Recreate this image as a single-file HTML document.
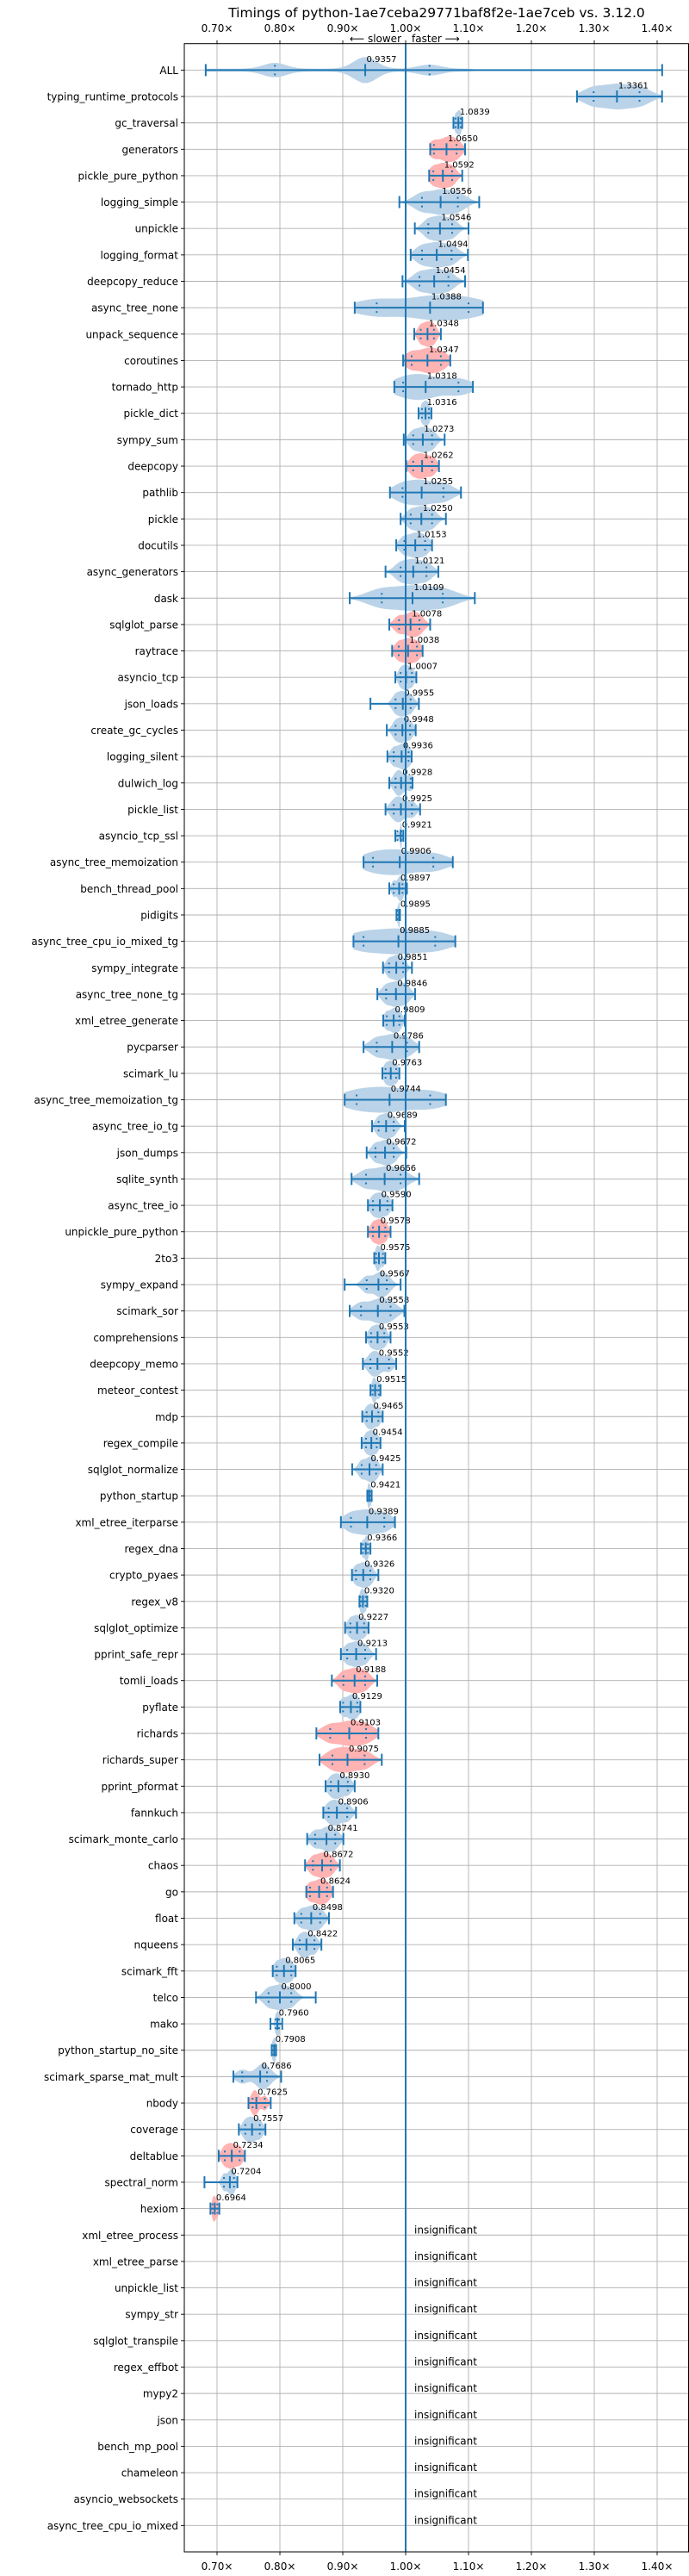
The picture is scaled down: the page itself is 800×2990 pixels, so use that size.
<!DOCTYPE html>
<html>
<head>
<meta charset="utf-8">
<style>
  html, body { margin: 0; padding: 0; background: #fff; }
  svg { display: block; }
  text { font-family: "DejaVu Sans", "Liberation Sans", sans-serif; }
</style>
</head>
<body>
<svg id="chart" width="800" height="2990" viewBox="0 0 800 2990" xmlns="http://www.w3.org/2000/svg">
  <rect x="0" y="0" width="800" height="2990" fill="#ffffff"/>
  <text x="507" y="20" font-size="15.5" text-anchor="middle" fill="#000">Timings of python-1ae7ceba29771baf8f2e-1ae7ceb vs. 3.12.0</text>
  <text x="466" y="49" font-size="12" text-anchor="end" fill="#000">⟵ slower</text>
  <text x="478" y="49" font-size="12" text-anchor="start" fill="#000">faster ⟶</text>
  <g id="grid"></g>
  <g id="violins"></g>
  <g id="axes"></g>
</svg>
<script>
const benchmarks = ["ALL","typing_runtime_protocols","gc_traversal","generators","pickle_pure_python","logging_simple","unpickle","logging_format","deepcopy_reduce","async_tree_none","unpack_sequence","coroutines","tornado_http","pickle_dict","sympy_sum","deepcopy","pathlib","pickle","docutils","async_generators","dask","sqlglot_parse","raytrace","asyncio_tcp","json_loads","create_gc_cycles","logging_silent","dulwich_log","pickle_list","asyncio_tcp_ssl","async_tree_memoization","bench_thread_pool","pidigits","async_tree_cpu_io_mixed_tg","sympy_integrate","async_tree_none_tg","xml_etree_generate","pycparser","scimark_lu","async_tree_memoization_tg","async_tree_io_tg","json_dumps","sqlite_synth","async_tree_io","unpickle_pure_python","2to3","sympy_expand","scimark_sor","comprehensions","deepcopy_memo","meteor_contest","mdp","regex_compile","sqlglot_normalize","python_startup","xml_etree_iterparse","regex_dna","crypto_pyaes","regex_v8","sqlglot_optimize","pprint_safe_repr","tomli_loads","pyflate","richards","richards_super","pprint_pformat","fannkuch","scimark_monte_carlo","chaos","go","float","nqueens","scimark_fft","telco","mako","python_startup_no_site","scimark_sparse_mat_mult","nbody","coverage","deltablue","spectral_norm","hexiom"];
const medians = [0.9357,1.3361,1.0839,1.0650,1.0592,1.0556,1.0546,1.0494,1.0454,1.0388,1.0348,1.0347,1.0318,1.0316,1.0273,1.0262,1.0255,1.0250,1.0153,1.0121,1.0109,1.0078,1.0038,1.0007,0.9955,0.9948,0.9936,0.9928,0.9925,0.9921,0.9906,0.9897,0.9895,0.9885,0.9851,0.9846,0.9809,0.9786,0.9763,0.9744,0.9689,0.9672,0.9666,0.9590,0.9578,0.9575,0.9567,0.9558,0.9553,0.9552,0.9515,0.9465,0.9454,0.9425,0.9421,0.9389,0.9366,0.9326,0.9320,0.9227,0.9213,0.9188,0.9129,0.9103,0.9075,0.8930,0.8906,0.8741,0.8672,0.8624,0.8498,0.8422,0.8065,0.8000,0.7960,0.7908,0.7686,0.7625,0.7557,0.7234,0.7204,0.6964];
const mins = [0.682,1.2726,1.076,1.039,1.0374,0.990,1.0146,1.008,0.995,0.919,1.0137,0.996,0.982,1.0205,0.997,1.001,0.975,0.992,0.985,0.968,0.911,0.974,0.9785,0.9836,0.944,0.970,0.971,0.974,0.968,0.9836,0.933,0.974,0.9854,0.917,0.964,0.955,0.9644,0.933,0.963,0.903,0.9466,0.938,0.914,0.940,0.940,0.950,0.903,0.911,0.937,0.932,0.944,0.931,0.930,0.915,0.939,0.897,0.929,0.9146,0.9265,0.9037,0.897,0.8826,0.8959,0.858,0.863,0.8726,0.869,0.8434,0.840,0.842,0.823,0.8205,0.7886,0.762,0.785,0.787,0.726,0.750,0.7347,0.7027,0.680,0.6895];
const maxs = [1.408,1.4078,1.090,1.0945,1.090,1.117,1.100,1.099,1.0945,1.123,1.056,1.071,1.107,1.041,1.062,1.053,1.088,1.064,1.042,1.052,1.110,1.039,1.027,1.017,1.021,1.016,1.0096,1.011,1.023,0.9963,1.075,1.002,0.991,1.079,1.010,1.015,0.9986,1.0215,0.990,1.064,0.9986,1.001,1.0215,0.979,0.976,0.9676,0.992,0.998,0.976,0.985,0.960,0.9635,0.960,0.9635,0.946,0.983,0.944,0.9566,0.939,0.941,0.953,0.9548,0.928,0.9566,0.962,0.919,0.921,0.901,0.8954,0.8845,0.878,0.866,0.825,0.857,0.8037,0.794,0.802,0.7854,0.777,0.7443,0.7324,0.7037];
const q1s = [0.792,1.299,1.0795,1.045,1.044,1.026,1.036,1.026,1.022,0.954,1.024,1.0096,0.996,1.026,1.012,1.012,0.995,1.008,0.998,0.992,0.962,0.9895,0.989,0.992,0.984,0.984,0.981,0.984,0.981,0.987,0.948,0.981,0.9865,0.933,0.9735,0.969,0.970,0.954,0.968,0.922,0.957,0.952,0.937,0.948,0.948,0.953,0.938,0.929,0.945,0.944,0.9475,0.938,0.937,0.930,0.940,0.913,0.932,0.921,0.928,0.912,0.907,0.901,0.9005,0.880,0.8836,0.881,0.8776,0.856,0.8525,0.848,0.834,0.8315,0.795,0.782,0.793,0.788,0.740,0.7566,0.745,0.7123,0.711,0.693];
const q3s = [1.038,1.372,1.0877,1.081,1.074,1.083,1.074,1.073,1.068,1.100,1.045,1.056,1.084,1.037,1.042,1.042,1.060,1.042,1.031,1.033,1.059,1.022,1.018,1.010,1.008,1.007,1.0046,1.008,1.010,0.993,1.044,0.995,0.990,1.047,0.996,1.000,0.990,1.002,0.985,1.039,0.981,0.981,0.992,0.971,0.9676,0.964,0.970,0.976,0.966,0.9735,0.9575,0.9566,0.954,0.953,0.945,0.966,0.940,0.9438,0.9365,0.934,0.9356,0.9356,0.923,0.937,0.9347,0.908,0.907,0.888,0.881,0.875,0.864,0.855,0.818,0.818,0.7986,0.793,0.7795,0.776,0.768,0.736,0.727,0.7005];
const slowerFlags = ["b","b","b","r","r","b","b","b","b","b","r","r","b","b","b","r","b","b","b","b","b","r","r","b","b","b","b","b","b","b","b","b","b","b","b","b","b","b","b","b","b","b","b","b","r","b","b","b","b","b","b","b","b","b","b","b","b","b","b","b","b","r","b","r","r","b","b","b","r","r","b","b","b","b","b","b","b","r","b","r","b","r"];
const insignificant = ["xml_etree_process","xml_etree_parse","unpickle_list","sympy_str","sqlglot_transpile","regex_effbot","mypy2","json","bench_mp_pool","chameleon","asyncio_websockets","async_tree_cpu_io_mixed"];
const tickValues = [0.7,0.8,0.9,1.0,1.1,1.2,1.3,1.4];
const tickLabels = ["0.70×","0.80×","0.90×","1.00×","1.10×","1.20×","1.30×","1.40×"];

const NS = "http://www.w3.org/2000/svg";
const AX_L = 214, AX_R = 799.5, AX_T = 50.7, AX_B = 2962;
const ROW_STEP = (AX_B - AX_T) / 95;
function xScale(v) { return 471 + (v - 1) * 730; }
function yScale(i) { return AX_T + (i + 1) * ROW_STEP; }
function mk(tag, attrs, parent) {
  const e = document.createElementNS(NS, tag);
  for (const k in attrs) e.setAttribute(k, attrs[k]);
  parent.appendChild(e);
  return e;
}
const grid = document.getElementById("grid");
const vg = document.getElementById("violins");
const axes = document.getElementById("axes");
const BLUE = "#1f77b4";
const allNames = benchmarks.concat(insignificant);

tickValues.forEach((v, k) => {
  const x = xScale(v);
  const gl = mk("line", {x1: x, x2: x, y1: AX_T, y2: AX_B, stroke: "#b0b0b0", "stroke-width": 0.9}, grid);
  
  
  const tt = mk("line", {x1: x, x2: x, y1: AX_T - 4, y2: AX_T, stroke: "#000", "stroke-width": 0.9}, axes);
  
  
  const tb = mk("line", {x1: x, x2: x, y1: AX_B, y2: AX_B + 4, stroke: "#000", "stroke-width": 0.9}, axes);
  
  
  const lt = mk("text", {x: x, y: 37, "font-size": 12, "text-anchor": "middle", fill: "#000"}, axes);
  lt.textContent = tickLabels[k];
  
  
  const lb = mk("text", {x: x, y: 2983, "font-size": 12, "text-anchor": "middle", fill: "#000"}, axes);
  lb.textContent = tickLabels[k];
  
  
});

allNames.forEach((n, i) => {
  const y = yScale(i);
  const gl = mk("line", {x1: AX_L, x2: AX_R, y1: y, y2: y, stroke: "#b0b0b0", "stroke-width": 0.9}, grid);
  
  
  const t = mk("line", {x1: AX_L - 4, x2: AX_L, y1: y, y2: y, stroke: "#000", "stroke-width": 0.9}, axes);
  
  
  const lab = mk("text", {x: AX_L - 7, y: y + 4.5, "font-size": 12, "text-anchor": "end", fill: "#000"}, axes);
  lab.textContent = n;
  
  
});

const HALF = 15;
benchmarks.forEach((n, i) => {
  const y = yScale(i);
  const lo = mins[i], hi = maxs[i], med = medians[i], a = q1s[i], b = q3s[i];
  let sig = Math.max((b - a) / 4, 0.0015);
  let weights = [0.85, 1, 0.85];
  let floor = 0;
  if (n === "ALL") { sig = 0.018; weights = [0.5, 1, 0.35]; floor = 0.12; }
  const centers = [a, med, b];
  const N = 90, pts = [];
  let maxd = 0;
  for (let k = 0; k <= N; k++) {
    const v = lo + (hi - lo) * k / N;
    let d = 0;
    centers.forEach((c, j) => { d += weights[j] * Math.exp(-((v - c) * (v - c)) / (2 * sig * sig)); });
    if (floor) { const fall = v > 1.1 ? Math.max(0, 1 - (v - 1.1) / 0.02) : 1; d = (d + floor) * fall; }
    pts.push([v, d]);
    if (d > maxd) maxd = d;
  }
  let dstr = "";
  pts.forEach((p, k) => { dstr += (k ? "L" : "M") + xScale(p[0]).toFixed(2) + "," + (y - HALF * p[1] / maxd).toFixed(2); });
  for (let k = pts.length - 1; k >= 0; k--) { dstr += "L" + xScale(pts[k][0]).toFixed(2) + "," + (y + HALF * pts[k][1] / maxd).toFixed(2); }
  dstr += "Z";
  const body = mk("path", {d: dstr, fill: slowerFlags[i] === "r" ? "#ffb3b3" : "#bad3e8", stroke: "none"}, vg);
  
  
  const bar = mk("line", {x1: xScale(lo), x2: xScale(hi), y1: y, y2: y, stroke: BLUE, "stroke-width": 2}, vg);
  
  
  [lo, hi].forEach(v => {
    const c = mk("line", {x1: xScale(v), x2: xScale(v), y1: y - 7, y2: y + 7, stroke: BLUE, "stroke-width": 2}, vg);
    
    
  });
  const m = mk("line", {x1: xScale(med), x2: xScale(med), y1: y - 7, y2: y + 7, stroke: BLUE, "stroke-width": 2}, vg);
  
  
  [a, b].forEach(v => {
    const q = mk("line", {x1: xScale(v), x2: xScale(v), y1: y - 6, y2: y + 6, stroke: BLUE, "stroke-width": 2, "stroke-dasharray": "2,3"}, vg);
    
    
  });
  const vl = mk("text", {x: xScale(med) + 1.5, y: y - 9.5, "font-size": 10, fill: "#000"}, vg);
  vl.textContent = med.toFixed(4);
  
  
});

insignificant.forEach((n, j) => {
  const y = yScale(benchmarks.length + j);
  const t = mk("text", {x: 481, y: y - 2, "font-size": 12, fill: "#000"}, vg);
  t.textContent = "insignificant";
  
  
});

const ref = mk("line", {x1: xScale(1), x2: xScale(1), y1: AX_T, y2: AX_B, stroke: BLUE, "stroke-width": 2}, vg);



const frame = mk("rect", {x: AX_L, y: AX_T, width: AX_R - AX_L, height: AX_B - AX_T, fill: "none", stroke: "#000", "stroke-width": 1}, axes);


</script>
</body>
</html>
